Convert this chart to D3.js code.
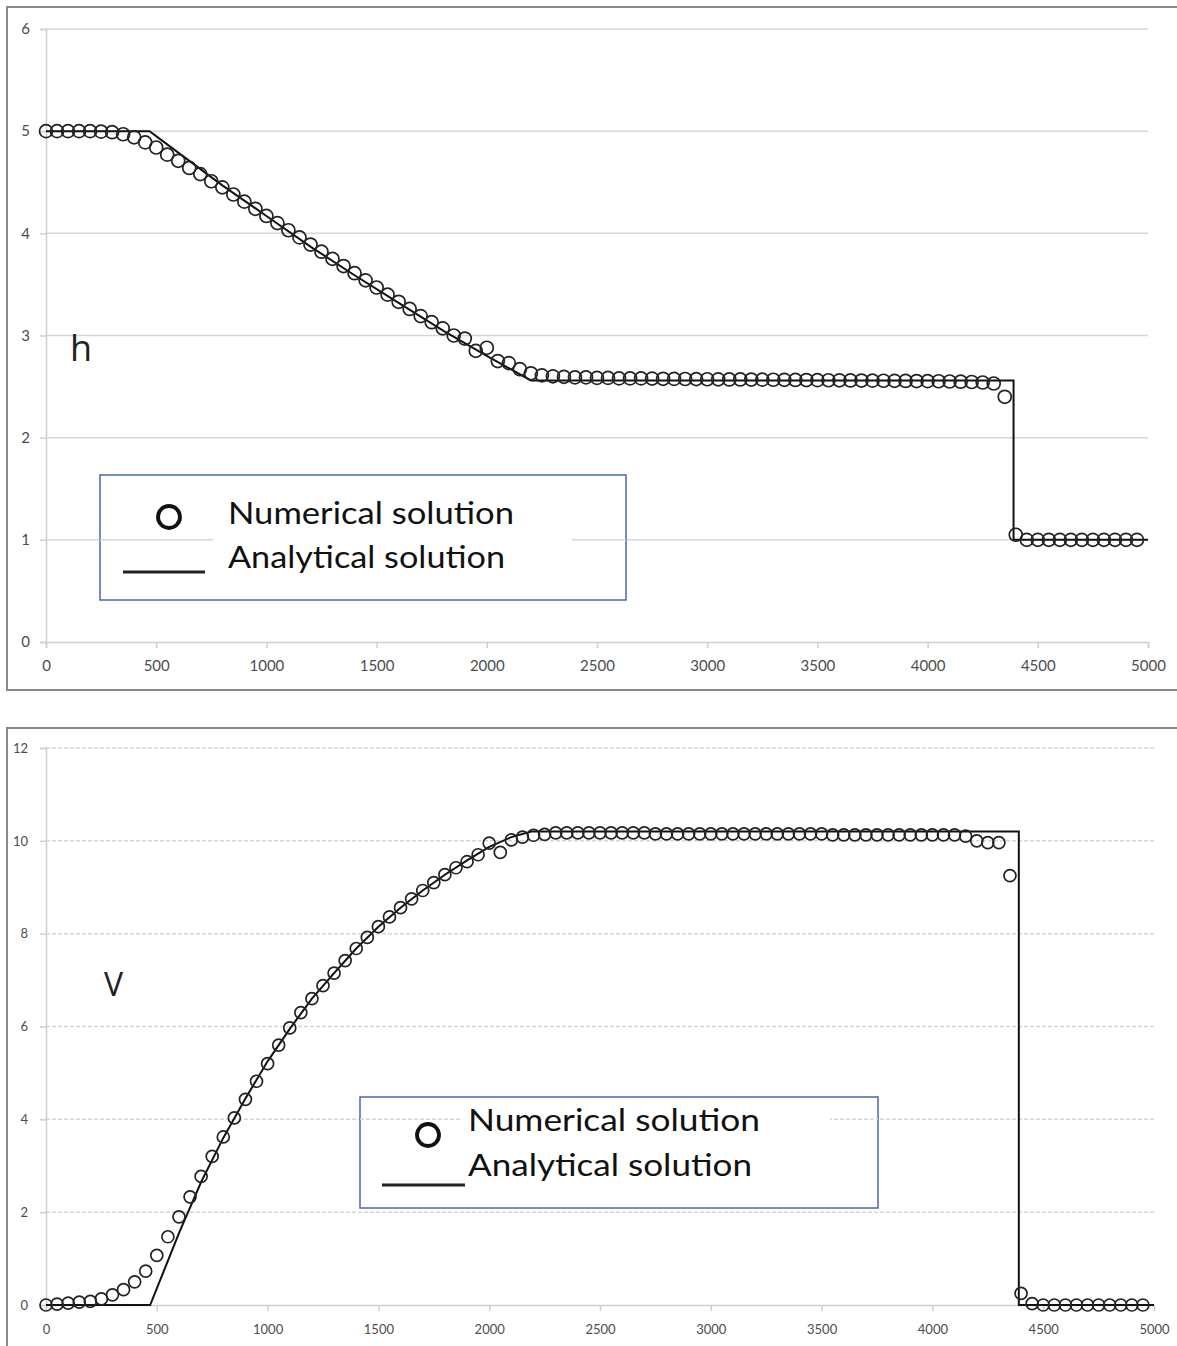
<!DOCTYPE html>
<html>
<head>
<meta charset="utf-8">
<script src="https://cdn.jsdelivr.net/npm/d3@7"></script>
<style>
  body { margin: 0; background: #fff; }
  svg { display: block; }
</style>
</head>
<body>
<svg id="chart" width="1177" height="1346"></svg>
<script>
// x positions of the numerical cells
const xPos = [0,50,100,150,200,250,300,350,400,450,500,550,600,650,700,750,800,850,900,950,
  1000,1050,1100,1150,1200,1250,1300,1350,1400,1450,1500,1550,1600,1650,1700,1750,1800,1850,1900,1950,
  2000,2050,2100,2150,2200,2250,2300,2350,2400,2450,2500,2550,2600,2650,2700,2750,2800,2850,2900,2950,
  3000,3050,3100,3150,3200,3250,3300,3350,3400,3450,3500,3550,3600,3650,3700,3750,3800,3850,3900,3950,
  4000,4050,4100,4150,4200,4250,4300,4350,4400,4450,4500,4550,4600,4650,4700,4750,4800,4850,4900,4950];

// water depth h, numerical
const hNumerical = [5.0,5.0,5.0,5.0,5.0,4.995,4.99,4.97,4.94,4.89,4.84,4.77,4.71,4.64,4.58,4.51,4.45,4.38,4.31,4.24,
  4.17,4.10,4.03,3.96,3.89,3.82,3.75,3.68,3.61,3.54,3.47,3.40,3.33,3.26,3.19,3.13,3.07,3.00,2.97,2.85,
  2.88,2.75,2.73,2.67,2.63,2.61,2.60,2.595,2.59,2.59,2.585,2.585,2.58,2.58,2.58,2.578,2.576,2.575,2.574,2.573,
  2.572,2.571,2.57,2.57,2.569,2.568,2.567,2.566,2.565,2.564,2.563,2.562,2.561,2.56,2.559,2.558,2.557,2.556,2.555,2.554,
  2.553,2.552,2.55,2.548,2.545,2.54,2.53,2.40,1.05,1.0,1.0,1.0,1.0,1.0,1.0,1.0,1.0,1.0,1.0,1.0];

// water depth h, analytical
const hExactX = [0,470,600,800,1000,1200,1400,1600,1800,2000,2200,4390,4390,5000];
const hExact  = [5,5,4.79,4.47,4.17,3.87,3.59,3.32,3.05,2.80,2.56,2.56,1.0,1.0];

// V, numerical
const vNumerical = [0,0.02,0.04,0.06,0.08,0.13,0.22,0.33,0.5,0.73,1.07,1.47,1.9,2.33,2.77,3.2,3.62,4.03,4.43,4.82,
  5.2,5.6,5.97,6.3,6.6,6.88,7.15,7.42,7.68,7.92,8.15,8.36,8.56,8.75,8.93,9.1,9.27,9.42,9.55,9.7,
  9.95,9.75,10.02,10.08,10.12,10.14,10.17,10.17,10.17,10.17,10.17,10.17,10.17,10.17,10.17,10.15,10.15,10.15,10.15,10.15,
  10.15,10.15,10.15,10.15,10.15,10.15,10.15,10.15,10.15,10.15,10.15,10.13,10.13,10.13,10.13,10.13,10.13,10.13,10.13,10.13,
  10.13,10.13,10.13,10.1,10.0,9.96,9.96,9.25,0.25,0.03,0,0,0,0,0,0,0,0,0,0];

// V, analytical
const vExactX = [0,470,550,600,650,700,800,900,1000,1100,1200,1300,1400,1500,1600,1700,1800,1900,2000,2100,2190,4390,4390,5000];
const vExact  = [0,0,0.95,1.55,2.1,2.65,3.6,4.45,5.25,5.95,6.6,7.15,7.68,8.15,8.56,8.93,9.27,9.58,9.87,10.08,10.2,10.2,0,0];

const xTicks = [0,500,1000,1500,2000,2500,3000,3500,4000,4500,5000];
const hTicks = [0,1,2,3,4,5,6];
const vTicks = [0,2,4,6,8,10,12];
const legendLabels = ["Numerical solution", "Analytical solution"];

var svg = d3.select("#chart");

function drawPanel(p) {
  var g = svg.append("g");

  // outer frame
  g.append("rect")
    .attr("x", p.frame[0]).attr("y", p.frame[1])
    .attr("width", p.frame[2]).attr("height", p.frame[3])
    .style("fill", "none").style("stroke", "#8a8a8a").style("stroke-width", 2);

  var x = d3.scaleLinear().domain([0, 5000]).range([p.left, p.right]);
  var y = d3.scaleLinear().domain([0, p.yMax]).range([p.bottom, p.top]);

  // gridlines
  g.selectAll(".grid").data(p.yTicks.filter(d => d > 0)).enter()
    .append("line")
    .attr("x1", p.left).attr("x2", p.right)
    .attr("y1", d => y(d)).attr("y2", d => y(d))
    .style("stroke", "#d6d6d6").style("stroke-width", 1.5)
    .style("stroke-dasharray", p.dashed ? "4,2" : null);

  // y axis
  var yAxis = g.append("g")
    .attr("transform", "translate(" + p.left + ",0)")
    .call(d3.axisLeft(y).tickValues(p.yTicks).tickFormat(d3.format("d"))
      .tickSize(6).tickPadding(p.yPad));
  yAxis.select(".domain").style("stroke", "#cfcfcf").style("stroke-width", 1.5);

  // x axis
  var xAxis = g.append("g")
    .attr("transform", "translate(0," + p.bottom + ")")
    .call(d3.axisBottom(x).tickValues(xTicks).tickFormat(d3.format("d"))
      .tickSize(6).tickPadding(p.xPad));
  xAxis.select(".domain").style("stroke", "#cfcfcf").style("stroke-width", 1.5);

  [yAxis, xAxis].forEach(function(a) {
    a.selectAll(".tick line").style("stroke", "#cfcfcf").style("stroke-width", 1.5);
    a.selectAll("text")
      .style("font-family", "Lato, 'Open Sans', sans-serif")
      .style("font-size", p.tickFont + "px")
      .style("fill", "#4d4d4d");
  });

  // analytical solution
  var line = d3.line().x((d, i) => x(p.exactX[i])).y(d => y(d));
  g.append("path")
    .datum(p.exact)
    .attr("d", line)
    .style("fill", "none").style("stroke", "#111").style("stroke-width", 2);

  // numerical solution
  g.selectAll(".pt").data(p.numerical).enter()
    .append("circle")
    .attr("cx", (d, i) => x(xPos[i]))
    .attr("cy", d => y(d))
    .attr("r", p.r)
    .style("fill", "none").style("stroke", "#222").style("stroke-width", 1.7);

  // variable label
  g.append("text")
    .attr("x", p.label[0]).attr("y", p.label[1])
    .text(p.labelText)
    .style("font-family", "'Open Sans', sans-serif")
    .style("font-size", p.labelSize + "px")
    .style("fill", "#222");

  // legend
  var L = p.legend;
  var lg = g.append("g");
  lg.append("rect")
    .attr("x", L.x).attr("y", L.y).attr("width", L.w).attr("height", L.h)
    .style("fill", "#fff").style("stroke", "#4a6aa8").style("stroke-width", 1.5);
  var gridIn = p.yTicks.filter(d => y(d) > L.y && y(d) < L.y + L.h);
  gridIn.forEach(function(d) {
    lg.append("line")
      .attr("x1", L.x).attr("x2", L.x + L.w)
      .attr("y1", y(d)).attr("y2", y(d))
      .style("stroke", "#d6d6d6").style("stroke-width", 1.5)
      .style("stroke-dasharray", p.dashed ? "4,2" : null);
    lg.append("rect")
      .attr("x", L.gapX0).attr("y", y(d) - 3)
      .attr("width", L.gapX1 - L.gapX0).attr("height", 6)
      .style("fill", "#fff");
  });
  lg.append("circle")
    .attr("cx", L.cx).attr("cy", L.cy).attr("r", 11)
    .style("fill", "none").style("stroke", "#111").style("stroke-width", 3.8);
  lg.append("line")
    .attr("x1", L.lx0).attr("x2", L.lx1).attr("y1", L.ly).attr("y2", L.ly)
    .style("stroke", "#222").style("stroke-width", 3);
  legendLabels.forEach(function(t, i) {
    lg.append("text")
      .attr("x", L.tx).attr("y", L.ty[i])
      .attr("textLength", L.tw[i]).attr("lengthAdjust", "spacingAndGlyphs")
      .text(t)
      .style("font-family", "Lato, 'Open Sans', sans-serif")
      .style("font-size", L.font + "px")
      .style("fill", "#111");
  });
}

drawPanel({
  frame: [7, 7, 1172, 683],
  left: 46, right: 1148, top: 29, bottom: 642,
  yMax: 6, yTicks: hTicks, dashed: false,
  yPad: 10, xPad: 12, tickFont: 15,
  exactX: hExactX, exact: hExact, numerical: hNumerical, r: 6.5,
  label: [70, 361], labelText: "h", labelSize: 36,
  legend: { x: 100, y: 475, w: 526, h: 125, gapX0: 213, gapX1: 572,
    cx: 169, cy: 517, lx0: 123, lx1: 205, ly: 572,
    tx: 228, ty: [524, 568], tw: [286, 277], font: 31 }
});

drawPanel({
  frame: [7, 728, 1180, 630],
  left: 46, right: 1154, top: 748, bottom: 1305,
  yMax: 12, yTicks: vTicks, dashed: true,
  yPad: 12, xPad: 14, tickFont: 13,
  exactX: vExactX, exact: vExact, numerical: vNumerical, r: 6,
  label: [104, 996], labelText: "V", labelSize: 32,
  legend: { x: 360, y: 1097, w: 518, h: 111, gapX0: 460, gapX1: 830,
    cx: 428, cy: 1135, lx0: 382, lx1: 465, ly: 1185,
    tx: 468, ty: [1131, 1176], tw: [292, 284], font: 31 }
});
</script>
</body>
</html>
